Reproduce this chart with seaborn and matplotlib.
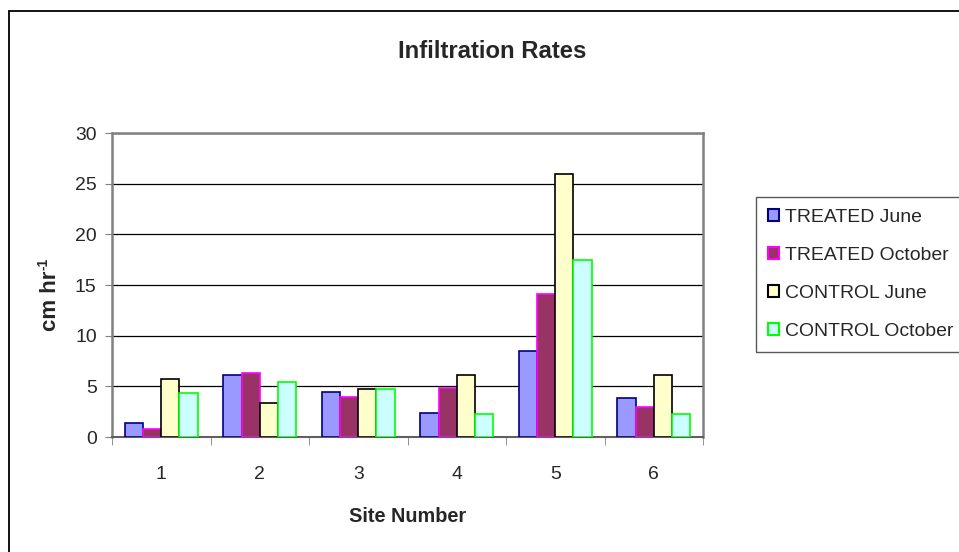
import pandas as pd
import matplotlib
matplotlib.use("Agg")
import matplotlib.pyplot as plt
from matplotlib import font_manager
import seaborn as sns
from matplotlib.patches import Rectangle
from matplotlib.lines import Line2D

sites = ["1", "2", "3", "4", "5", "6"]
treated_june = [1.4, 6.1, 4.4, 2.4, 8.5, 3.85]
treated_october = [0.8, 6.3, 3.9, 4.8, 14.1, 2.95]
control_june = [5.7, 3.4, 4.7, 6.1, 26.0, 6.1]
control_october = [4.3, 5.4, 4.7, 2.3, 17.5, 2.3]

series = ["TREATED June", "TREATED October", "CONTROL June", "CONTROL October"]
fills = ["#9999FF", "#993366", "#FFFFCC", "#CCFFFF"]
edges = ["#000080", "#FF00FF", "#000000", "#00FF00"]

df = pd.DataFrame({
    "site": sites * 4,
    "rate": treated_june + treated_october + control_june + control_october,
    "series": [s for s in series for _ in sites],
})

sns.set_style("white")
names = {f.name for f in font_manager.fontManager.ttflist}
if "Liberation Sans Narrow" in names:
    plt.rcParams["font.family"] = ["Liberation Sans Narrow", "DejaVu Sans"]
    k = 1.0
else:
    plt.rcParams["font.family"] = ["Liberation Sans", "DejaVu Sans"]
    k = 0.82

W, H = 959, 552
fig = plt.figure(figsize=(W / 100, H / 100), dpi=100)
# chart area border (only left and top edges fall inside the image)
fig.lines.append(Line2D([9 / W, 9 / W], [0, 1 - 11 / H], transform=fig.transFigure,
                        color="black", linewidth=1.3))
fig.lines.append(Line2D([9 / W, 1], [1 - 11 / H, 1 - 11 / H], transform=fig.transFigure,
                        color="black", linewidth=1.3))

ax = fig.add_axes([112 / W, 1 - 437 / H, 591 / W, 304 / H])

sns.barplot(data=df, x="site", y="rate", hue="series", hue_order=series,
            palette=fills, width=0.74, saturation=1, ax=ax, legend=False)

for i, cont in enumerate(ax.containers):
    for p in cont:
        p.set_facecolor(fills[i])
        p.set_edgecolor(edges[i])
        p.set_linewidth(1.2)
        p.set_zorder(3)

ax.set_ylim(0, 30)
ax.set_yticks(range(0, 31, 5))
ax.set_xlim(-0.5, 5.5)
ax.yaxis.grid(True, color="black", linewidth=0.9)
ax.set_axisbelow(True)
for s in ["top", "right", "left"]:
    ax.spines[s].set_color("#808080")
    ax.spines[s].set_linewidth(1.8)
ax.spines["bottom"].set_color("#606060")
ax.spines["bottom"].set_linewidth(1.5)

ax.tick_params(axis="y", length=5, direction="out", color="#808080",
               labelsize=17 * k, left=True, pad=6)
ax.set_xticks([i - 0.5 for i in range(7)], minor=True)
ax.tick_params(axis="x", which="major", length=0, pad=21, labelsize=17 * k, bottom=True)
ax.tick_params(axis="x", which="minor", length=6, color="#808080", bottom=True)

ax.set_xlabel("Site Number", fontsize=17.5 * k, fontweight="bold", va="center")
ax.xaxis.set_label_coords(0.5, -(517 - 437) / 304)
ax.set_ylabel("")

# y label "cm hr^-1" with a plain hyphen in the superscript
ylab = fig.text(56 / W, 1 - 331 / H, "cm hr", rotation=90, rotation_mode="anchor",
                ha="left", va="baseline", fontsize=16, fontweight="bold")
fig.canvas.draw()
top = ylab.get_window_extent().y1
fig.text(48 / W, (top + 1) / H, "-1", rotation=90, rotation_mode="anchor",
         ha="left", va="baseline", fontsize=10, fontweight="bold")

fig.text(492 / W, 1 - 58 / H, "Infiltration Rates", ha="center", va="baseline",
         fontsize=21 * k, fontweight="bold")

handles = [Rectangle((0, 0), 1, 1, facecolor=f, edgecolor=e, linewidth=1.5)
           for f, e in zip(fills, edges)]
fs = 17 * k
leg = fig.legend(handles, series, loc="upper left", bbox_to_anchor=(756 / W, 1 - 197 / H),
                 frameon=True, fancybox=False, fontsize=fs, handlelength=8 / fs,
                 handleheight=8 / fs, handletextpad=0.3, labelspacing=1.08,
                 borderpad=0.62, borderaxespad=0)
leg.get_frame().set_edgecolor("#303030")
leg.get_frame().set_linewidth(1)

fig.savefig("out.png", dpi=100)
